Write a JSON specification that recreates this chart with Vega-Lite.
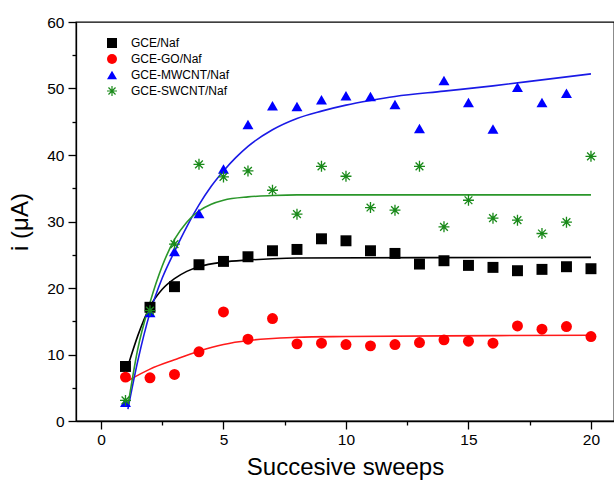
{
  "$schema": "https://vega.github.io/schema/vega-lite/v6.json",
  "width": 538,
  "height": 399,
  "autosize": {"type": "none"},
  "padding": {"left": 76, "top": 22, "right": 0, "bottom": 63},
  "background": "white",
  "config": {
    "view": {"stroke": "#000000", "strokeWidth": 1.3},
    "font": "Liberation Sans",
    "axis": {"domainColor": "#000000", "domainWidth": 1.3, "tickColor": "#000000", "tickWidth": 1.3, "grid": false, "labelFont": "Liberation Sans", "titleFont": "Liberation Sans", "labelColor": "#000000", "titleColor": "#000000", "titleFontWeight": "normal"},
    "legend": {"labelFont": "Liberation Sans", "labelFontSize": 12, "labelColor": "#000000", "symbolSize": 100, "labelOffset": 13, "rowPadding": 0, "symbolOpacity": 1, "padding": 0}
  },
  "datasets": {
    "pts": [
      {"series": "GCE/Naf", "sweep": 1, "i": 8.2},
      {"series": "GCE/Naf", "sweep": 2, "i": 17.1},
      {"series": "GCE/Naf", "sweep": 3, "i": 20.2},
      {"series": "GCE/Naf", "sweep": 4, "i": 23.5},
      {"series": "GCE/Naf", "sweep": 5, "i": 24.0},
      {"series": "GCE/Naf", "sweep": 6, "i": 24.7},
      {"series": "GCE/Naf", "sweep": 7, "i": 25.6},
      {"series": "GCE/Naf", "sweep": 8, "i": 25.8},
      {"series": "GCE/Naf", "sweep": 9, "i": 27.4},
      {"series": "GCE/Naf", "sweep": 10, "i": 27.1},
      {"series": "GCE/Naf", "sweep": 11, "i": 25.6},
      {"series": "GCE/Naf", "sweep": 12, "i": 25.2},
      {"series": "GCE/Naf", "sweep": 13, "i": 23.6},
      {"series": "GCE/Naf", "sweep": 14, "i": 24.1},
      {"series": "GCE/Naf", "sweep": 15, "i": 23.4},
      {"series": "GCE/Naf", "sweep": 16, "i": 23.1},
      {"series": "GCE/Naf", "sweep": 17, "i": 22.6},
      {"series": "GCE/Naf", "sweep": 18, "i": 22.8},
      {"series": "GCE/Naf", "sweep": 19, "i": 23.2},
      {"series": "GCE/Naf", "sweep": 20, "i": 22.9},
      {"series": "GCE-GO/Naf", "sweep": 1, "i": 6.6},
      {"series": "GCE-GO/Naf", "sweep": 2, "i": 6.5},
      {"series": "GCE-GO/Naf", "sweep": 3, "i": 7.0},
      {"series": "GCE-GO/Naf", "sweep": 4, "i": 10.4},
      {"series": "GCE-GO/Naf", "sweep": 5, "i": 16.4},
      {"series": "GCE-GO/Naf", "sweep": 6, "i": 12.3},
      {"series": "GCE-GO/Naf", "sweep": 7, "i": 15.4},
      {"series": "GCE-GO/Naf", "sweep": 8, "i": 11.6},
      {"series": "GCE-GO/Naf", "sweep": 9, "i": 11.7},
      {"series": "GCE-GO/Naf", "sweep": 10, "i": 11.5},
      {"series": "GCE-GO/Naf", "sweep": 11, "i": 11.3},
      {"series": "GCE-GO/Naf", "sweep": 12, "i": 11.5},
      {"series": "GCE-GO/Naf", "sweep": 13, "i": 11.8},
      {"series": "GCE-GO/Naf", "sweep": 14, "i": 12.2},
      {"series": "GCE-GO/Naf", "sweep": 15, "i": 12.0},
      {"series": "GCE-GO/Naf", "sweep": 16, "i": 11.7},
      {"series": "GCE-GO/Naf", "sweep": 17, "i": 14.3},
      {"series": "GCE-GO/Naf", "sweep": 18, "i": 13.8},
      {"series": "GCE-GO/Naf", "sweep": 19, "i": 14.2},
      {"series": "GCE-GO/Naf", "sweep": 20, "i": 12.7},
      {"series": "GCE-MWCNT/Naf", "sweep": 1, "i": 2.8},
      {"series": "GCE-MWCNT/Naf", "sweep": 2, "i": 16.3},
      {"series": "GCE-MWCNT/Naf", "sweep": 3, "i": 25.5},
      {"series": "GCE-MWCNT/Naf", "sweep": 4, "i": 31.2},
      {"series": "GCE-MWCNT/Naf", "sweep": 5, "i": 37.9},
      {"series": "GCE-MWCNT/Naf", "sweep": 6, "i": 44.6},
      {"series": "GCE-MWCNT/Naf", "sweep": 7, "i": 47.4},
      {"series": "GCE-MWCNT/Naf", "sweep": 8, "i": 47.3},
      {"series": "GCE-MWCNT/Naf", "sweep": 9, "i": 48.3},
      {"series": "GCE-MWCNT/Naf", "sweep": 10, "i": 48.9},
      {"series": "GCE-MWCNT/Naf", "sweep": 11, "i": 48.8},
      {"series": "GCE-MWCNT/Naf", "sweep": 12, "i": 47.6},
      {"series": "GCE-MWCNT/Naf", "sweep": 13, "i": 44.0},
      {"series": "GCE-MWCNT/Naf", "sweep": 14, "i": 51.2},
      {"series": "GCE-MWCNT/Naf", "sweep": 15, "i": 47.9},
      {"series": "GCE-MWCNT/Naf", "sweep": 16, "i": 43.9},
      {"series": "GCE-MWCNT/Naf", "sweep": 17, "i": 50.2},
      {"series": "GCE-MWCNT/Naf", "sweep": 18, "i": 47.9},
      {"series": "GCE-MWCNT/Naf", "sweep": 19, "i": 49.3},
      {"series": "GCE-SWCNT/Naf", "sweep": 1, "i": 3.1},
      {"series": "GCE-SWCNT/Naf", "sweep": 2, "i": 16.6},
      {"series": "GCE-SWCNT/Naf", "sweep": 3, "i": 26.6},
      {"series": "GCE-SWCNT/Naf", "sweep": 4, "i": 38.6},
      {"series": "GCE-SWCNT/Naf", "sweep": 5, "i": 36.7},
      {"series": "GCE-SWCNT/Naf", "sweep": 6, "i": 37.6},
      {"series": "GCE-SWCNT/Naf", "sweep": 7, "i": 34.7},
      {"series": "GCE-SWCNT/Naf", "sweep": 8, "i": 31.1},
      {"series": "GCE-SWCNT/Naf", "sweep": 9, "i": 38.3},
      {"series": "GCE-SWCNT/Naf", "sweep": 10, "i": 36.8},
      {"series": "GCE-SWCNT/Naf", "sweep": 11, "i": 32.1},
      {"series": "GCE-SWCNT/Naf", "sweep": 12, "i": 31.7},
      {"series": "GCE-SWCNT/Naf", "sweep": 13, "i": 38.3},
      {"series": "GCE-SWCNT/Naf", "sweep": 14, "i": 29.2},
      {"series": "GCE-SWCNT/Naf", "sweep": 15, "i": 33.2},
      {"series": "GCE-SWCNT/Naf", "sweep": 16, "i": 30.5},
      {"series": "GCE-SWCNT/Naf", "sweep": 17, "i": 30.2},
      {"series": "GCE-SWCNT/Naf", "sweep": 18, "i": 28.2},
      {"series": "GCE-SWCNT/Naf", "sweep": 19, "i": 29.9},
      {"series": "GCE-SWCNT/Naf", "sweep": 20, "i": 39.8}
    ],
    "fits": [
      {"series": "GCE/Naf", "sweep": 1.12, "i": 8.5},
      {"series": "GCE/Naf", "sweep": 1.5, "i": 12.8},
      {"series": "GCE/Naf", "sweep": 2, "i": 17.2},
      {"series": "GCE/Naf", "sweep": 2.5, "i": 19.8},
      {"series": "GCE/Naf", "sweep": 3, "i": 21.4},
      {"series": "GCE/Naf", "sweep": 3.5, "i": 22.5},
      {"series": "GCE/Naf", "sweep": 4, "i": 23.2},
      {"series": "GCE/Naf", "sweep": 5, "i": 23.9},
      {"series": "GCE/Naf", "sweep": 6, "i": 24.2},
      {"series": "GCE/Naf", "sweep": 7, "i": 24.4},
      {"series": "GCE/Naf", "sweep": 8, "i": 24.5},
      {"series": "GCE/Naf", "sweep": 20, "i": 24.6},
      {"series": "GCE-GO/Naf", "sweep": 1.12, "i": 6.1},
      {"series": "GCE-GO/Naf", "sweep": 2, "i": 7.8},
      {"series": "GCE-GO/Naf", "sweep": 3, "i": 9.2},
      {"series": "GCE-GO/Naf", "sweep": 4, "i": 10.5},
      {"series": "GCE-GO/Naf", "sweep": 5, "i": 11.5},
      {"series": "GCE-GO/Naf", "sweep": 6, "i": 12.1},
      {"series": "GCE-GO/Naf", "sweep": 7, "i": 12.4},
      {"series": "GCE-GO/Naf", "sweep": 8, "i": 12.6},
      {"series": "GCE-GO/Naf", "sweep": 10, "i": 12.7},
      {"series": "GCE-GO/Naf", "sweep": 14, "i": 12.8},
      {"series": "GCE-GO/Naf", "sweep": 20, "i": 12.9},
      {"series": "GCE-MWCNT/Naf", "sweep": 1.1, "i": 1.8},
      {"series": "GCE-MWCNT/Naf", "sweep": 1.5, "i": 9.0},
      {"series": "GCE-MWCNT/Naf", "sweep": 2, "i": 16.3},
      {"series": "GCE-MWCNT/Naf", "sweep": 2.5, "i": 21.5},
      {"series": "GCE-MWCNT/Naf", "sweep": 3, "i": 25.5},
      {"series": "GCE-MWCNT/Naf", "sweep": 3.5, "i": 29.2},
      {"series": "GCE-MWCNT/Naf", "sweep": 4, "i": 32.5},
      {"series": "GCE-MWCNT/Naf", "sweep": 4.5, "i": 35.3},
      {"series": "GCE-MWCNT/Naf", "sweep": 5, "i": 37.6},
      {"series": "GCE-MWCNT/Naf", "sweep": 5.5, "i": 39.6},
      {"series": "GCE-MWCNT/Naf", "sweep": 6, "i": 41.3},
      {"series": "GCE-MWCNT/Naf", "sweep": 7, "i": 43.8},
      {"series": "GCE-MWCNT/Naf", "sweep": 8, "i": 45.5},
      {"series": "GCE-MWCNT/Naf", "sweep": 9, "i": 46.6},
      {"series": "GCE-MWCNT/Naf", "sweep": 10, "i": 47.5},
      {"series": "GCE-MWCNT/Naf", "sweep": 11, "i": 48.2},
      {"series": "GCE-MWCNT/Naf", "sweep": 12, "i": 48.8},
      {"series": "GCE-MWCNT/Naf", "sweep": 14, "i": 49.6},
      {"series": "GCE-MWCNT/Naf", "sweep": 16, "i": 50.4},
      {"series": "GCE-MWCNT/Naf", "sweep": 18, "i": 51.3},
      {"series": "GCE-MWCNT/Naf", "sweep": 20, "i": 52.2},
      {"series": "GCE-SWCNT/Naf", "sweep": 1.1, "i": 2.3},
      {"series": "GCE-SWCNT/Naf", "sweep": 1.5, "i": 10.8},
      {"series": "GCE-SWCNT/Naf", "sweep": 2, "i": 17.8},
      {"series": "GCE-SWCNT/Naf", "sweep": 2.5, "i": 23.3},
      {"series": "GCE-SWCNT/Naf", "sweep": 3, "i": 27.3},
      {"series": "GCE-SWCNT/Naf", "sweep": 3.5, "i": 29.9},
      {"series": "GCE-SWCNT/Naf", "sweep": 4, "i": 31.6},
      {"series": "GCE-SWCNT/Naf", "sweep": 4.5, "i": 32.6},
      {"series": "GCE-SWCNT/Naf", "sweep": 5, "i": 33.2},
      {"series": "GCE-SWCNT/Naf", "sweep": 6, "i": 33.7},
      {"series": "GCE-SWCNT/Naf", "sweep": 7, "i": 33.9},
      {"series": "GCE-SWCNT/Naf", "sweep": 8, "i": 34.0},
      {"series": "GCE-SWCNT/Naf", "sweep": 20, "i": 34.0}
    ]
  },
  "encoding": {
    "x": {
      "field": "sweep", "type": "quantitative",
      "scale": {"domain": [-1.02, 20.94], "nice": false, "zero": false},
      "axis": {
        "title": "Succesive sweeps", "titleFontSize": 24, "titlePadding": 8,
        "values": [0, 2.5, 5, 7.5, 10, 12.5, 15, 17.5, 20],
        "labelExpr": "datum.value % 5 === 0 ? datum.label : ''",
        "labelFontSize": 15.5, "labelPadding": 3,
        "tickSize": {"condition": {"test": "datum.value % 5 === 0", "value": 8}, "value": 4}
      }
    },
    "y": {
      "field": "i", "type": "quantitative",
      "scale": {"domain": [0, 60], "nice": false},
      "axis": {
        "title": "i (μA)", "titleFontSize": 24, "titlePadding": 14,
        "values": [0, 5, 10, 15, 20, 25, 30, 35, 40, 45, 50, 55, 60],
        "labelExpr": "datum.value % 10 === 0 ? datum.label : ''",
        "labelFontSize": 15.5, "labelPadding": 4,
        "tickSize": {"condition": {"test": "datum.value % 10 === 0", "value": 8}, "value": 4}
      }
    }
  },
  "layer": [
    {
      "data": {"name": "fits"},
      "transform": [{"filter": "datum.series === 'GCE/Naf'"}],
      "mark": {"type": "line", "strokeWidth": 1.6, "interpolate": "monotone", "color": "#000000"}
    },
    {
      "data": {"name": "fits"},
      "transform": [{"filter": "datum.series === 'GCE-GO/Naf'"}],
      "mark": {"type": "line", "strokeWidth": 1.6, "interpolate": "monotone", "color": "#ff1a1a"}
    },
    {
      "data": {"name": "fits"},
      "transform": [{"filter": "datum.series === 'GCE-MWCNT/Naf'"}],
      "mark": {"type": "line", "strokeWidth": 1.6, "interpolate": "monotone", "color": "#1a1ae6"}
    },
    {
      "data": {"name": "fits"},
      "transform": [{"filter": "datum.series === 'GCE-SWCNT/Naf'"}],
      "mark": {"type": "line", "strokeWidth": 1.6, "interpolate": "monotone", "color": "#2a962a"}
    },
    {
      "data": {"name": "pts"},
      "mark": {"type": "point", "filled": true, "size": 120, "opacity": 1},
      "encoding": {
        "color": {
          "field": "series", "type": "nominal",
          "scale": {"domain": ["GCE/Naf", "GCE-GO/Naf", "GCE-MWCNT/Naf", "GCE-SWCNT/Naf"], "range": ["#000000", "#ff0000", "#0000ff", "#1a8a1a"]},
          "legend": {"title": null, "orient": "none", "legendX": 30, "legendY": 15}
        },
        "shape": {
          "field": "series", "type": "nominal",
          "scale": {"domain": ["GCE/Naf", "GCE-GO/Naf", "GCE-MWCNT/Naf", "GCE-SWCNT/Naf"], "range": ["square", "circle", "triangle-up", "M-1,-0.12L1,-0.12L1,0.12L-1,0.12ZM-0.12,-1L0.12,-1L0.12,1L-0.12,1ZM-0.622,-0.792L0.792,0.622L0.622,0.792L-0.792,-0.622ZM-0.792,0.622L0.622,-0.792L0.792,-0.622L-0.622,0.792Z"]},
          "legend": {"title": null, "orient": "none", "legendX": 30, "legendY": 15}
        }
      }
    }
  ]
}
